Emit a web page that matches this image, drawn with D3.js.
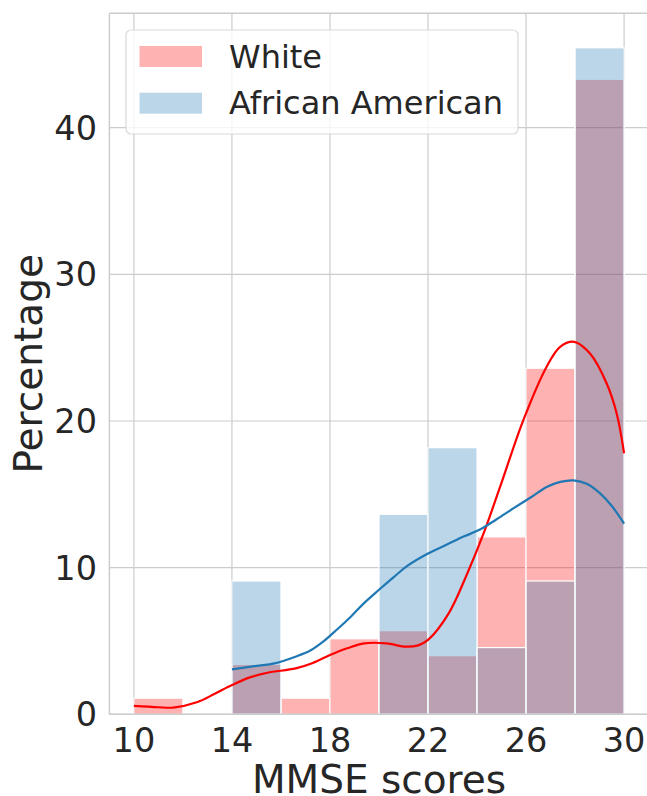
<!DOCTYPE html>
<html>
<head>
<meta charset="utf-8">
<script src="https://cdn.jsdelivr.net/npm/d3@7"></script>
<style>
html,body{margin:0;padding:0;background:#fff;}
svg{display:block;font-family:"DejaVu Sans",sans-serif;}
</style>
</head>
<body>
<svg id="chart" width="647" height="796"></svg>
<script>
// ---- data ----
const binEdges = [10, 12, 14, 16, 18, 20, 22, 24, 26, 28, 30];
const whitePct = [1.1, 0, 3.4, 1.1, 5.15, 5.7, 4.0, 12.1, 23.6, 43.3];
const aaPct    = [0, 0, 9.09, 0, 0, 13.64, 18.18, 4.55, 9.09, 45.45];
const whiteKdeX = [10.0, 11.0, 11.6, 12.6, 13.3, 14.0, 14.7, 15.45, 16.6, 17.3, 18.0, 18.7, 19.4, 20.3, 21.1, 21.6, 22.0, 22.85, 23.55, 24.26, 24.94, 25.89, 26.84, 27.39, 27.97, 28.61, 29.29, 29.7, 30.0];
const whiteKdeY = [0.57, 0.48, 0.46, 0.84, 1.4, 1.99, 2.5, 2.83, 3.13, 3.5, 4.04, 4.5, 4.84, 4.84, 4.61, 4.7, 5.07, 6.9, 9.4, 12.3, 15.5, 20.06, 23.7, 25.06, 25.4, 24.6, 22.56, 20.5, 17.8];
const aaKdeX = [14.0, 15.0, 15.73, 16.59, 17.2, 17.72, 18.3, 18.86, 19.4, 20.0, 20.6, 21.14, 22.0, 22.85, 23.5, 24.12, 24.8, 25.48, 26.2, 26.84, 27.4, 27.93, 28.5, 29.02, 29.5, 30.0];
const aaKdeY = [3.06, 3.3, 3.47, 3.93, 4.35, 4.95, 5.8, 6.67, 7.6, 8.49, 9.35, 10.1, 10.96, 11.64, 12.15, 12.6, 13.3, 14.04, 14.8, 15.5, 15.85, 15.95, 15.7, 15.06, 14.2, 13.0];
const xTicks = [10, 14, 18, 22, 26, 30];
const yTicks = [0, 10, 20, 30, 40];
const seriesNames = ["White", "African American"];
const seriesColors = ["#ff0000", "#1f77b4"];

// ---- layout ----
const svg = d3.select("#chart");
const L = 109.4, R = 648.6, T = 13.3, B = 714.3;
const x = d3.scaleLinear().domain([9, 31]).range([L, R]);
const y = d3.scaleLinear().domain([0, 47.8]).range([B, T]);
const textColor = "#262626";
const gridColor = "#cccccc";

// grid
const g = svg.append("g");
g.selectAll("line.vx").data(xTicks).join("line")
  .attr("x1", d => x(d)).attr("x2", d => x(d)).attr("y1", T).attr("y2", B)
  .attr("stroke", gridColor).attr("stroke-width", 1.2);
g.selectAll("line.hy").data(yTicks).join("line")
  .attr("x1", L).attr("x2", R).attr("y1", d => y(d)).attr("y2", d => y(d))
  .attr("stroke", gridColor).attr("stroke-width", 1.2);

// bars
function drawBars(vals, color) {
  const bins = vals.map((v, i) => ({x0: binEdges[i], x1: binEdges[i + 1], v})).filter(d => d.v > 0);
  svg.append("g").selectAll("rect").data(bins).join("rect")
    .attr("x", d => x(d.x0)).attr("width", d => x(d.x1) - x(d.x0))
    .attr("y", d => y(d.v)).attr("height", d => y(0) - y(d.v))
    .attr("fill", color).attr("fill-opacity", 0.3)
    .attr("stroke", "#ffffff").attr("stroke-width", 1.2);
}
drawBars(whitePct, seriesColors[0]);
drawBars(aaPct, seriesColors[1]);

// kde lines
const line = d3.line().x(d => x(d[0])).y(d => y(d[1])).curve(d3.curveCatmullRom.alpha(0.5));
svg.append("path").datum(whiteKdeX.map((v, i) => [v, whiteKdeY[i]]))
  .attr("d", line).attr("fill", "none").attr("stroke", seriesColors[0]).attr("stroke-width", 2.2);
svg.append("path").datum(aaKdeX.map((v, i) => [v, aaKdeY[i]]))
  .attr("d", line).attr("fill", "none").attr("stroke", seriesColors[1]).attr("stroke-width", 2.2);

// spines
svg.append("line").attr("x1", L).attr("x2", L).attr("y1", T).attr("y2", B).attr("stroke", gridColor).attr("stroke-width", 1.5);
svg.append("line").attr("x1", L).attr("x2", R).attr("y1", B).attr("y2", B).attr("stroke", gridColor).attr("stroke-width", 1.5);
svg.append("line").attr("x1", L).attr("x2", R).attr("y1", T).attr("y2", T).attr("stroke", gridColor).attr("stroke-width", 1.5);

// tick labels
svg.append("g").selectAll("text").data(xTicks).join("text")
  .attr("x", d => x(d)).attr("y", 752).attr("text-anchor", "middle")
  .attr("font-size", 33.5).attr("fill", textColor).text(d => d);
svg.append("g").selectAll("text").data(yTicks).join("text")
  .attr("x", 97).attr("y", d => y(d)).attr("dy", "0.36em").attr("text-anchor", "end")
  .attr("font-size", 33.5).attr("fill", textColor).text(d => d);

// axis labels
svg.append("text").attr("x", (L + R) / 2).attr("y", 793).attr("text-anchor", "middle")
  .attr("font-size", 39).attr("fill", textColor).text("MMSE scores");
svg.append("text").attr("transform", `translate(42,${(T + B) / 2}) rotate(-90)`)
  .attr("text-anchor", "middle").attr("font-size", 39).attr("fill", textColor).text("Percentage");

// legend
const lg = svg.append("g");
lg.append("rect").attr("x", 126).attr("y", 30).attr("width", 392).attr("height", 104)
  .attr("rx", 5).attr("fill", "#ffffff").attr("fill-opacity", 0.8).attr("stroke", "#d9d9d9").attr("stroke-width", 1.2);
seriesNames.forEach((name, i) => {
  const yy = 46 + i * 46.7;
  lg.append("rect").attr("x", 139.5).attr("y", yy).attr("width", 62.5).attr("height", 21)
    .attr("fill", seriesColors[i]).attr("fill-opacity", 0.3);
  lg.append("text").attr("x", 229).attr("y", yy + 21.7).attr("font-size", 32).attr("fill", textColor).text(name);
});
</script>
</body>
</html>
